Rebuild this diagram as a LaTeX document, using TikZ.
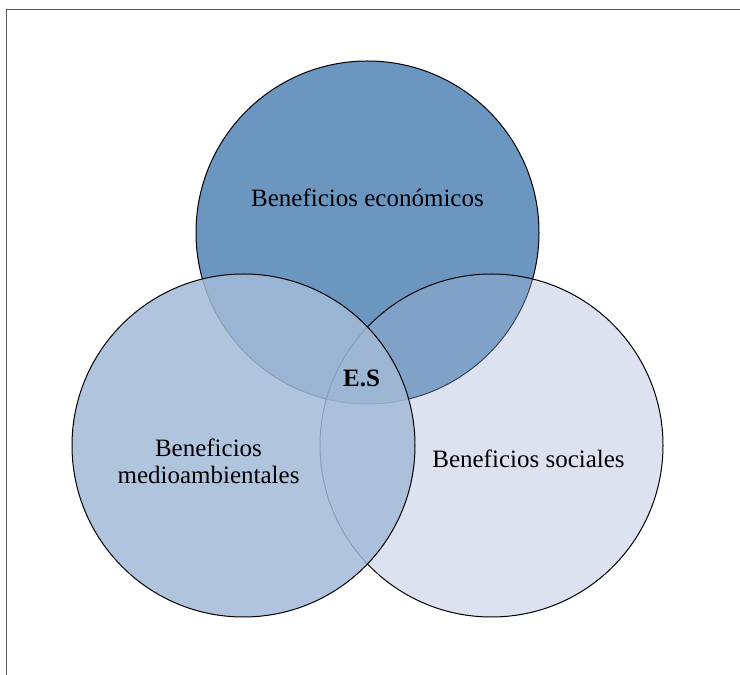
\documentclass[tikz,border=0pt]{standalone}
\usepackage{fontspec}
\setmainfont{Liberation Serif}
\usetikzlibrary{positioning}

\definecolor{ecoblue}{RGB}{107,150,192}
\definecolor{socblue}{RGB}{163,179,215}
\definecolor{medblue}{RGB}{163,186,215}
\definecolor{framegray}{RGB}{90,90,90}

\begin{document}
\begin{tikzpicture}
  [
  x = 1pt, y = 1pt, on grid,
  venn set/.style={circle, draw=black, line width=1pt, inner sep=0pt, minimum size=343pt},
  eco set/.style={venn set, fill=ecoblue},
  soc set/.style={venn set, fill=socblue, fill opacity=0.38},
  med set/.style={venn set, fill=medblue, fill opacity=0.85},
  set label/.style={font=\fontsize{25}{27}\selectfont, align=center, inner sep=0pt}
  ]
  \useasboundingbox (0,0) rectangle (740,675);
  \draw[framegray, line width=1pt] (6,0) -- (6,665) -- (740,665);

  \node[eco set] (eco)                                            at (367.5,442.5) {};
  \node[soc set] (soc) [below right=213pt and 124pt of eco]                        {};
  \node[med set] (med) [below left=213pt and 124pt of eco]                         {};

  \node[set label] (eco text) [above=34.5pt of eco]                  {Beneficios económicos};
  \node[set label] (med text) [below left=15.5pt and 35pt of med]    {Beneficios\\medioambientales};
  \node[set label] (soc text) [below right=13.5pt and 37pt of soc]   {Beneficios sociales};
  \node[set label, font=\fontsize{25}{27}\selectfont\bfseries] (es)
                              [below left=145.5pt and 6pt of eco]   {E.S};
\end{tikzpicture}
\end{document}
